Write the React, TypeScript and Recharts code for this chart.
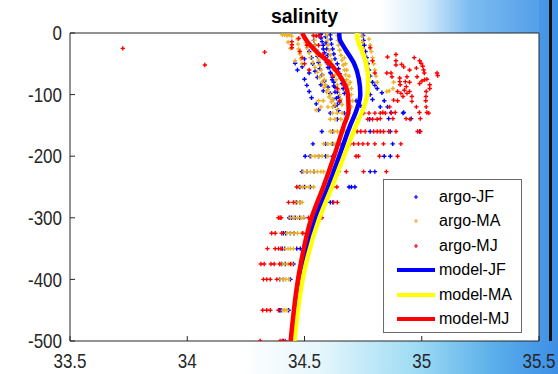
import { ScatterChart, Scatter, XAxis, YAxis, CartesianGrid } from 'recharts'

const xTicks = [33.5, 34, 34.5, 35, 35.5]
const yTicks = [-500, -400, -300, -200, -100, 0]

// model profiles: depth levels and salinity per period
const modelDepth = [0, -10, -20, -30, -50, -75, -100, -125, -150, -200, -250, -300, -385, -500]
const modelJF = [34.648, 34.65, 34.664, 34.68, 34.712, 34.732, 34.738, 34.722, 34.695, 34.648, 34.6, 34.548, 34.49, 34.449]
const modelMA = [34.724, 34.726, 34.735, 34.746, 34.763, 34.772, 34.768, 34.748, 34.72, 34.668, 34.617, 34.564, 34.5, 34.457]
const modelMJ = [34.49, 34.505, 34.525, 34.55, 34.61, 34.66, 34.685, 34.688, 34.668, 34.626, 34.58, 34.53, 34.479, 34.441]

// argo observations [salinity, depth]
const argoJF = [
  [34.57, -2], [34.57, -8], [34.575, -14], [34.58, -20], [34.58, -26], [34.585, -32], [34.59, -40], [34.595, -48],
  [34.6, -56], [34.61, -64], [34.62, -72], [34.625, -80], [34.63, -88], [34.64, -96], [34.645, -104], [34.65, -112],
  [34.61, -3], [34.612, -10], [34.615, -18], [34.62, -26], [34.625, -34], [34.63, -42], [34.64, -50], [34.645, -58],
  [34.65, -66], [34.655, -74], [34.66, -82], [34.665, -90], [34.67, -98],
  [34.59, -6], [34.592, -16], [34.595, -26], [34.6, -36], [34.603, -46], [34.607, -56], [34.612, -66], [34.618, -76],
  [34.625, -86], [34.63, -96], [34.636, -106], [34.64, -116], [34.645, -126],
  [34.54, -12], [34.545, -20], [34.55, -28], [34.555, -38], [34.56, -48], [34.565, -58], [34.575, -68], [34.585, -78],
  [34.6, -88], [34.61, -98], [34.62, -108], [34.63, -118],
  [34.52, -30], [34.53, -40], [34.535, -50], [34.545, -62], [34.555, -72], [34.57, -84], [34.58, -94],
  [34.5, -75], [34.51, -85], [34.52, -95], [34.53, -105], [34.55, -115], [34.56, -125],
  [34.46, -49], [34.49, -55], [34.52, -65], [34.5, -42], [34.47, -60],
  [34.75, -4], [34.752, -12], [34.755, -20], [34.76, -30], [34.765, -40], [34.77, -50], [34.775, -60], [34.78, -70], [34.79, -80],
  [34.8, -85], [34.81, -90], [34.83, -97], [34.78, -100], [34.79, -108], [34.72, -110], [34.74, -118],
  [34.823, -120], [34.854, -120], [34.84, -110],
  [34.61, -130], [34.67, -130], [34.92, -130], [34.869, -129], [34.923, -129],
  [34.778, -140], [34.859, -139], [34.955, -139], [34.64, -140],
  [34.574, -160], [34.62, -160], [34.66, -160], [34.78, -160], [34.866, -160], [34.991, -160],
  [34.536, -180], [34.59, -180], [34.62, -180], [34.65, -180], [34.876, -180],
  [34.503, -200], [34.524, -200], [34.56, -200], [34.59, -200], [34.62, -200], [34.84, -200], [34.866, -200],
  [34.489, -225], [34.51, -225], [34.54, -225], [34.78, -225], [34.8, -225],
  [34.48, -250], [34.5, -250], [34.525, -250], [34.69, -250], [34.7, -250], [34.715, -250],
  [34.465, -275], [34.48, -275], [34.61, -275], [34.62, -275],
  [34.435, -300], [34.445, -300], [34.46, -300], [34.48, -300], [34.496, -300],
  [34.41, -325], [34.42, -325], [34.44, -325], [34.455, -325],
  [34.405, -350], [34.415, -350], [34.467, -350], [34.482, -350],
  [34.403, -375], [34.418, -375], [34.453, -375],
  [34.394, -400], [34.41, -400], [34.44, -400],
  [34.394, -450], [34.4, -450], [34.432, -450],
  [34.41, -500],
]

const argoMA = [
  [34.405, -3], [34.415, -3], [34.425, -4], [34.435, -3], [34.445, -5],
  [34.43, -15], [34.44, -25], [34.46, -45],
  [34.47, -10], [34.472, -18], [34.475, -26], [34.48, -34], [34.485, -42], [34.49, -50],
  [34.5, -8], [34.505, -16], [34.51, -24], [34.52, -32], [34.525, -40], [34.535, -48], [34.545, -56], [34.555, -64],
  [34.565, -72], [34.575, -80], [34.585, -88], [34.595, -96], [34.605, -104], [34.615, -112], [34.62, -120],
  [34.54, -4], [34.542, -12], [34.545, -20], [34.55, -28], [34.555, -36], [34.56, -44], [34.565, -52], [34.57, -60],
  [34.578, -68], [34.585, -76], [34.59, -84], [34.6, -92], [34.61, -100], [34.62, -108], [34.63, -116], [34.64, -124],
  [34.595, -4], [34.598, -12], [34.6, -20], [34.605, -28], [34.61, -36], [34.615, -44], [34.62, -52], [34.625, -60],
  [34.63, -68], [34.635, -76], [34.64, -84], [34.645, -92], [34.65, -100], [34.655, -108], [34.66, -116],
  [34.64, -4], [34.642, -12], [34.645, -20], [34.65, -28], [34.655, -36], [34.66, -44], [34.665, -52], [34.67, -60],
  [34.675, -68], [34.68, -76], [34.685, -84],
  [34.67, -40], [34.675, -50], [34.68, -60], [34.69, -70], [34.695, -80], [34.7, -90], [34.7, -100], [34.705, -110],
  [34.7, -120], [34.69, -130],
  [34.56, -110], [34.58, -110], [34.57, -120], [34.6, -120], [34.55, -125],
  [34.745, -5], [34.748, -15], [34.75, -25], [34.755, -35], [34.76, -45], [34.765, -55],
  [34.775, -10], [34.78, -20], [34.785, -30], [34.79, -40], [34.795, -50], [34.8, -60], [34.805, -70], [34.81, -80],
  [34.861, -94], [34.88, -80], [34.877, -90], [34.851, -95],
  [34.62, -130], [34.64, -130], [34.66, -130],
  [34.61, -140], [34.63, -140], [34.655, -140], [34.68, -140],
  [34.61, -160], [34.625, -160], [34.64, -160], [34.655, -160], [34.674, -160],
  [34.581, -180], [34.6, -180], [34.615, -180], [34.63, -180], [34.645, -180],
  [34.53, -200], [34.545, -200], [34.56, -200], [34.575, -200], [34.6, -200],
  [34.496, -225], [34.51, -225], [34.525, -225], [34.54, -225], [34.555, -225], [34.57, -225], [34.581, -225],
  [34.474, -250], [34.49, -250], [34.505, -250], [34.52, -250], [34.539, -250],
  [34.46, -275], [34.47, -275], [34.48, -275], [34.49, -275],
  [34.44, -300], [34.455, -300], [34.47, -300], [34.485, -300], [34.496, -300],
  [34.425, -325], [34.44, -325], [34.455, -325], [34.47, -325], [34.489, -325],
  [34.418, -350], [34.43, -350], [34.44, -350], [34.453, -350],
  [34.4, -375], [34.415, -375], [34.43, -375], [34.446, -375],
  [34.396, -400], [34.41, -400], [34.42, -400], [34.432, -400],
  [34.408, -450], [34.415, -450], [34.425, -450],
]

const argoMJ = [
  [33.725, -25], [34.075, -52], [34.33, -31],
  [34.446, -14], [34.446, -19], [34.446, -24], [34.475, -9], [34.538, -4], [34.55, -5], [34.56, -4], [34.567, -5],
  [34.48, -30], [34.49, -40], [34.5, -50], [34.52, -60], [34.51, -20],
  [34.56, -20], [34.58, -35], [34.6, -50], [34.62, -70], [34.64, -90], [34.65, -110],
  [34.78, -24], [34.8, -65], [34.79, -45],
  [34.854, -39], [34.89, -35], [34.89, -45], [34.89, -52], [34.968, -40],
  [34.991, -45], [34.997, -49], [35.004, -54], [35.008, -60], [35.011, -65],
  [34.914, -51], [34.923, -55], [34.948, -60], [34.977, -57],
  [34.851, -65], [34.869, -65], [34.873, -71],
  [34.906, -73], [34.906, -79], [34.908, -84], [34.937, -71],
  [34.93, -79], [34.934, -87], [34.926, -93], [34.948, -80],
  [34.98, -71], [35.001, -78], [35.012, -76], [35.022, -75], [35.034, -84], [35.034, -90],
  [35.065, -65], [35.068, -69], [34.991, -82],
  [34.897, -95], [34.911, -98], [34.92, -103],
  [34.937, -98], [34.948, -95], [34.958, -103], [34.958, -111],
  [35.019, -95], [35.018, -103], [35.017, -110],
  [34.88, -109], [34.897, -110],
  [34.863, -120], [34.977, -120], [35.019, -120],
  [34.752, -130], [34.775, -130], [34.8, -130], [34.823, -130], [34.845, -130], [34.87, -130],
  [34.834, -129], [34.887, -129], [34.99, -129], [35.022, -129], [35.03, -130],
  [34.73, -140], [34.77, -140], [34.79, -140], [34.81, -140], [34.823, -139], [34.877, -139], [34.933, -139], [34.994, -139], [34.95, -140],
  [34.724, -160], [34.74, -160], [34.759, -160], [34.795, -160], [34.81, -160], [34.823, -160], [34.837, -160],
  [34.859, -160], [34.89, -160], [34.982, -160], [34.994, -160],
  [34.695, -180], [34.71, -180], [34.73, -180], [34.749, -180], [34.77, -180], [34.8, -180], [34.837, -180], [34.911, -180],
  [34.72, -200], [34.73, -200], [34.82, -200], [34.897, -200],
  [34.645, -225], [34.678, -225], [34.752, -225], [34.849, -225],
  [34.467, -250], [34.638, -250], [34.62, -250],
  [34.432, -275], [34.453, -275], [34.624, -275], [34.64, -275],
  [34.389, -300], [34.396, -300], [34.4, -300], [34.517, -300], [34.574, -300],
  [34.36, -325], [34.375, -325], [34.403, -325], [34.493, -325],
  [34.342, -350], [34.375, -350], [34.389, -350], [34.399, -350],
  [34.314, -375], [34.328, -375], [34.357, -375], [34.371, -375], [34.394, -375], [34.44, -375],
  [34.325, -400], [34.339, -400], [34.354, -400], [34.382, -400],
  [34.322, -450], [34.339, -450], [34.354, -450], [34.389, -450],
  [34.311, -500], [34.396, -500], [34.405, -500], [34.418, -500],
]

const toPts = (arr: number[][]) => arr.map(([x, y]) => ({ x, y }))
const toProfile = (sal: number[]) => sal.map((x, i) => ({ x, y: modelDepth[i] }))

const BLUE = '#0000ff'
const ORANGE = '#edb120'
const RED = '#ff0000'
const YELLOW = '#ffff00'

const legendItems = [
  { name: 'argo-JF', color: BLUE, kind: 'point' },
  { name: 'argo-MA', color: ORANGE, kind: 'point' },
  { name: 'argo-MJ', color: RED, kind: 'point' },
  { name: 'model-JF', color: BLUE, kind: 'line' },
  { name: 'model-MA', color: YELLOW, kind: 'line' },
  { name: 'model-MJ', color: RED, kind: 'line' },
]

const FONT = '"Liberation Sans", Arial, sans-serif'

// tick text squeezed horizontally like the matlab export
const squeezedTick = (anchor: 'end' | 'middle', dy: string) => (props: any) => {
  const { x, y, payload } = props
  return (
    <text
      transform={`translate(${x},${y}) scale(0.85,1)`}
      textAnchor={anchor}
      dy={dy}
      fill="#262626"
      fontSize={20}
      fontFamily={FONT}
    >
      {payload.value}
    </text>
  )
}

const plus = (color: string) => (props: any) => {
  const { cx, cy } = props
  return <path d={`M${cx - 2.2},${cy}h4.4M${cx},${cy - 2.2}v4.4`} stroke={color} strokeWidth={1.4} fill="none" />
}

const noShape = () => <g />

function LegendBox() {
  return (
    <div
      style={{
        position: 'absolute',
        left: 383,
        top: 179,
        width: 137,
        height: 152,
        border: '1px solid #6a6a6a',
        background: '#fff',
        fontFamily: FONT,
        fontSize: 16,
        color: '#000',
        zIndex: 3,
      }}
    >
      {legendItems.map((it, i) => (
        <div key={it.name} style={{ position: 'absolute', top: 6 + i * 24.4, left: 0, height: 22, display: 'flex', alignItems: 'center' }}>
          <div style={{ width: 54, height: 22, position: 'relative' }}>
            {it.kind === 'line' ? (
              <div style={{ position: 'absolute', left: 13, top: 9, width: 38, height: 4, background: it.color }} />
            ) : (
              <svg width={54} height={22} style={{ position: 'absolute', left: 0, top: 0 }}>
                <path d="M30,11h4M32,9v4" stroke={it.color} strokeWidth={1.2} />
              </svg>
            )}
          </div>
          <span style={{ marginLeft: 1 }}>{it.name}</span>
        </div>
      ))}
    </div>
  )
}

export default function App() {
  return (
    <div style={{ position: 'absolute', left: 0, top: 0, width: 558, height: 374, background: '#fff', overflow: 'hidden' }}>
      {/* screenshot backdrop bits */}
      <div style={{ position: 'absolute', left: 380, top: 0, width: 178, height: 34, background: 'linear-gradient(to right, #ffffff 0%, #d6ecfb 25%, #7dbcf0 50%, #4a98e8 100%)' }} />
      <div style={{ position: 'absolute', left: 539, top: 0, width: 19, height: 374, background: 'linear-gradient(to right, #4a98e8, #3d8fe6)' }} />
      <div style={{ position: 'absolute', left: 549, top: 0, width: 3, height: 374, background: '#111' }} />
      <div style={{ position: 'absolute', left: 240, top: 341, width: 318, height: 33, background: 'linear-gradient(to right, #ffffff 0%, #e6f6fc 25%, #9fdcf4 55%, #5aaeea 80%, #3d8fe6 100%)' }} />

      <div
        style={{
          position: 'absolute',
          left: 70,
          width: 469,
          top: 5,
          textAlign: 'center',
          fontFamily: FONT,
          fontWeight: 'bold',
          fontSize: 19.5,
          color: '#000',
          zIndex: 2,
        }}
      >
        salinity
      </div>

      <div style={{ position: 'absolute', left: 0, top: 0 }}>
        <ScatterChart width={558} height={374} margin={{ top: 32, right: 18, bottom: 3, left: 10 }}>
          <CartesianGrid horizontal={false} vertical={false} fill="#ffffff" stroke="none" />
          <XAxis
            xAxisId="b"
            type="number"
            dataKey="x"
            domain={[33.5, 35.5]}
            ticks={xTicks}
            interval={0}
            allowDataOverflow
            height={30}
            tickSize={-5}
            tickMargin={18}
            stroke="#262626"
            tick={squeezedTick('middle', '0.71em')}
          />
          <XAxis
            xAxisId="t"
            orientation="top"
            type="number"
            dataKey="x"
            domain={[33.5, 35.5]}
            ticks={xTicks}
            interval={0}
            allowDataOverflow
            height={1}
            tickSize={-5}
            tick={false}
            stroke="#262626"
          />
          <YAxis
            yAxisId="l"
            type="number"
            dataKey="y"
            domain={[-500, 0]}
            ticks={yTicks}
            interval={0}
            allowDataOverflow
            width={60}
            tickSize={-5}
            tickMargin={13}
            stroke="#262626"
            tick={squeezedTick('end', '0.355em')}
          />
          <YAxis
            yAxisId="r"
            orientation="right"
            type="number"
            dataKey="y"
            domain={[-500, 0]}
            ticks={yTicks}
            interval={0}
            allowDataOverflow
            width={1}
            tickSize={-5}
            tick={false}
            stroke="#262626"
          />
          <Scatter xAxisId="b" yAxisId="l" name="argo-JF" data={toPts(argoJF)} fill={BLUE} shape={plus(BLUE)} isAnimationActive={false} />
          <Scatter xAxisId="b" yAxisId="l" name="argo-MA" data={toPts(argoMA)} fill={ORANGE} shape={plus(ORANGE)} isAnimationActive={false} />
          <Scatter xAxisId="b" yAxisId="l" name="argo-MJ" data={toPts(argoMJ)} fill={RED} shape={plus(RED)} isAnimationActive={false} />
          <Scatter
            xAxisId="b"
            yAxisId="l"
            name="model-JF"
            data={toProfile(modelJF)}
            line={{ stroke: BLUE, strokeWidth: 4.5 }}
            lineJointType="monotoneY"
            shape={noShape}
            isAnimationActive={false}
          />
          <Scatter
            xAxisId="b"
            yAxisId="l"
            name="model-MA"
            data={toProfile(modelMA)}
            line={{ stroke: YELLOW, strokeWidth: 4.5 }}
            lineJointType="monotoneY"
            shape={noShape}
            isAnimationActive={false}
          />
          <Scatter
            xAxisId="b"
            yAxisId="l"
            name="model-MJ"
            data={toProfile(modelMJ)}
            line={{ stroke: RED, strokeWidth: 4.5 }}
            lineJointType="monotoneY"
            shape={noShape}
            isAnimationActive={false}
          />
        </ScatterChart>
      </div>
      <LegendBox />
    </div>
  )
}
